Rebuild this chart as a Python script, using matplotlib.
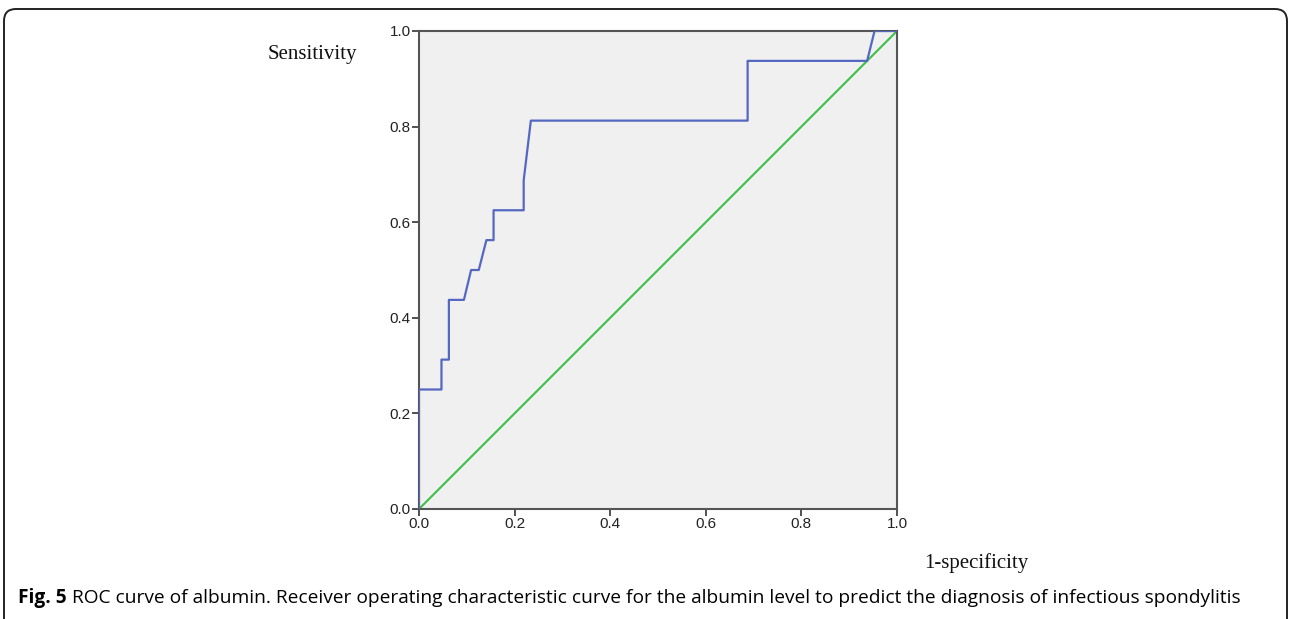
import matplotlib
matplotlib.use("Agg")
import matplotlib.pyplot as plt
from matplotlib.patches import FancyBboxPatch
from matplotlib.transforms import IdentityTransform

# ROC curve points (16 positives, 64 negatives)
fpr = [0.0, 0.0, 0.047, 0.047, 0.0625, 0.0625, 0.094, 0.109, 0.125, 0.141,
       0.156, 0.156, 0.219, 0.219, 0.234, 0.6875, 0.6875, 0.9375, 0.953, 1.0]
tpr = [0.0, 0.25, 0.25, 0.3125, 0.3125, 0.4375, 0.4375, 0.5, 0.5, 0.5625,
       0.5625, 0.625, 0.625, 0.6875, 0.8125, 0.8125, 0.9375, 0.9375, 1.0, 1.0]
ref_line = [0.0, 1.0]
ticks = [0.0, 0.2, 0.4, 0.6, 0.8, 1.0]
caption_bold = "Fig. 5"
caption_text = (" ROC curve of albumin. Receiver operating characteristic curve for the "
                "albumin level to predict the diagnosis of infectious spondylitis")

fig = plt.figure(figsize=(12.9, 6.19), dpi=100)
ax = fig.add_axes([419 / 1290, 110 / 619, 478 / 1290, 478 / 619])
ax.set_facecolor("#f0f0f0")

ax.plot(ref_line, ref_line, color="#3dbf4a", lw=1.5, zorder=2)
ax.plot(fpr, tpr, color="#5468c2", lw=1.6, zorder=3)

ax.set_xlim(0, 1)
ax.set_ylim(0, 1)
ax.set_xticks(ticks)
ax.set_yticks(ticks)
ax.set_xticklabels([f"{t:.1f}" for t in ticks])
ax.set_yticklabels([f"{t:.1f}" for t in ticks])
ax.tick_params(direction="out", length=5, width=1.2, color="#333333",
               labelsize=11, labelcolor="#222222", pad=1)
for t in ax.get_xticklabels() + ax.get_yticklabels():
    t.set_fontfamily("Liberation Sans")
for s in ax.spines.values():
    s.set_color("#555555")
    s.set_linewidth(1.5)

fig.text(268 / 1290, 1 - 54 / 619, "Sensitivity", family="Liberation Serif",
         fontsize=15, va="center", ha="left", color="#111111")
fig.text(924 / 1290, 1 - 563 / 619, "1-specificity", family="Liberation Serif",
         fontsize=15, va="center", ha="left", color="#111111")

# caption
t1 = fig.text(18 / 1290, 1 - 598 / 619, caption_bold, family="Open Sans",
              fontweight="bold", fontsize=13.8, va="center", ha="left")
fig.canvas.draw()
bb = t1.get_window_extent()
fig.text(bb.x1 / 1290, 1 - 598 / 619, caption_text, family="Open Sans",
         fontsize=13.8, va="center", ha="left")

# rounded frame around the figure
frame = FancyBboxPatch((4, -30), 1283, 640, boxstyle="round,pad=0,rounding_size=12",
                       transform=IdentityTransform(), fill=False,
                       edgecolor="#222222", lw=1.4)
fig.patches.append(frame)

fig.savefig("out.png", dpi=100)
